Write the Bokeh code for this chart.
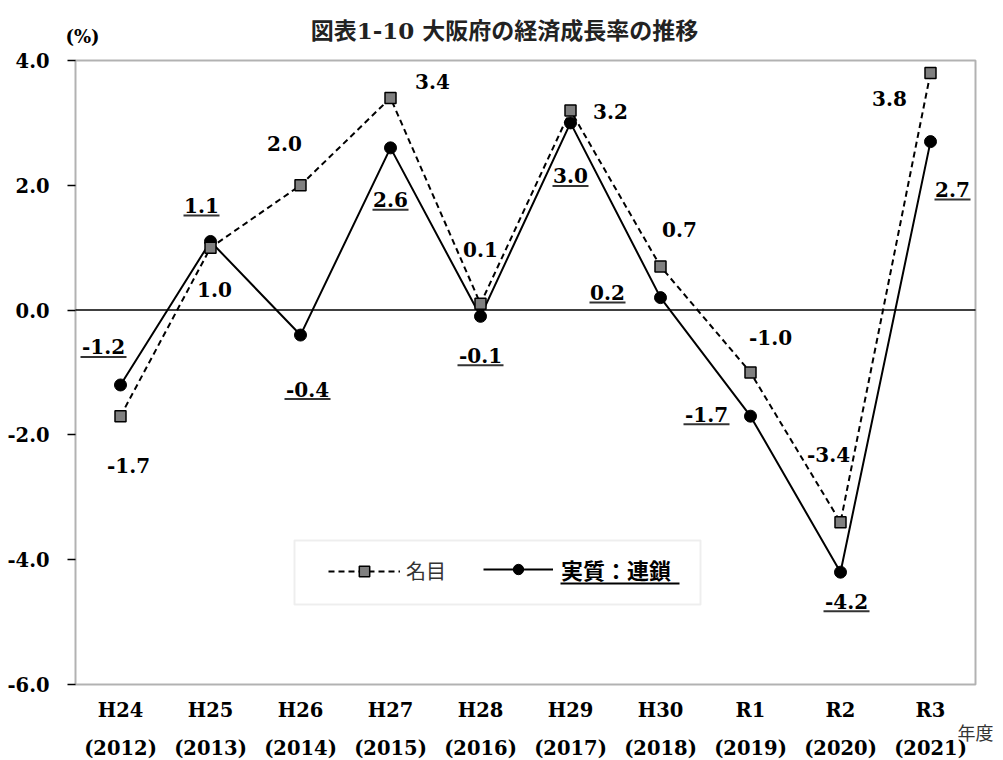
from bokeh.plotting import figure
from bokeh.models import (FixedTicker, NumeralTickFormatter, Range1d,
                          Legend, LegendItem, BoxAnnotation)
from bokeh.core.properties import value
from bokeh.embed import file_html
from bokeh.resources import INLINE

# ---------------- data ----------------
categories = ["H24", "H25", "H26", "H27", "H28", "H29", "H30", "R1", "R2", "R3"]
years = ["(2012)", "(2013)", "(2014)", "(2015)", "(2016)", "(2017)", "(2018)", "(2019)", "(2020)", "(2021)"]
nominal = [-1.7, 1.0, 2.0, 3.4, 0.1, 3.2, 0.7, -1.0, -3.4, 3.8]
real = [-1.2, 1.1, -0.4, 2.6, -0.1, 3.0, 0.2, -1.7, -4.2, 2.7]
y_ticks = [-6, -4, -2, 0, 2, 4]
series_names = ["名目", "実質：連鎖"]
title_text = "図表1-10 大阪府の経済成長率の推移"
unit_text = "(%)"
x_name = "年度"

# label placement (pixel offsets from each point)
nominal_dx = [8, 4, -16, 42, 0, 40, 19, 20, -12, -41]
nominal_dy = [49, 42, -42, -16, -54, 1, -37, -35, -68, 26]
real_dx = [-17, -9, 7, 0, 0, 0, -53, -44, 6, 22]
real_dy = [-38, -36, 54, 52, 39, 53, -5, -2, 29, 48]

# ---------------- layout constants ----------------
W, H = 1003, 760
FRAME_L = 64                                        # left edge of the drawing frame
PLOT_L, PLOT_R, PLOT_T, PLOT_B = 75, 975, 60, 684   # plot box in pixels
X0, X1 = 0, len(categories)
Y0, Y1 = -6, 4
PX_X = (PLOT_R - PLOT_L) / (X1 - X0)
PX_Y = (PLOT_B - PLOT_T) / (Y1 - Y0)
NUM_FONT = "DejaVu Serif"
JP_FONT = "Noto Sans CJK JP"
MIX_FONT = "DejaVu Serif, Noto Sans CJK JP"

xs = [i + 0.5 for i in range(len(categories))]
nominal_labels = ["%.1f" % v for v in nominal]
real_labels = ["%.1f" % v for v in real]

x_range = Range1d(X0 - (PLOT_L - FRAME_L) / PX_X, X1 + (W - PLOT_R) / PX_X)
y_range = Range1d(Y0 - (H - PLOT_B) / PX_Y, Y1 + PLOT_T / PX_Y)

p = figure(frame_width=W - FRAME_L, frame_height=H,
           x_range=x_range, y_range=y_range,
           output_backend="svg", toolbar_location=None,
           x_axis_location=None,
           min_border_left=FRAME_L, min_border_right=0, min_border_top=0, min_border_bottom=0,
           background_fill_color="white", border_fill_color="white")
p.grid.visible = False
p.outline_line_color = None

# y axis (library axis; its ticks reach the plot box edge)
yax = p.yaxis[0]
yax.bounds = (Y0, Y1)
yax.ticker = FixedTicker(ticks=y_ticks)
yax.formatter = NumeralTickFormatter(format="0.0")
yax.axis_line_color = None
yax.major_tick_out = -3
yax.major_tick_in = PLOT_L - FRAME_L
yax.minor_tick_line_color = None
yax.major_tick_line_width = 1.5
yax.major_label_standoff = 15
yax.major_label_text_font = NUM_FONT
yax.major_label_text_font_style = "bold"
yax.major_label_text_font_size = "19.5px"
yax.major_label_text_color = "black"

# plot box
p.add_layout(BoxAnnotation(left=X0, right=X1, bottom=Y0, top=Y1,
                           fill_alpha=0, line_color="black", line_width=2, level="underlay"))

# zero line (inside plot box)
p.segment([X0], [0], [X1], [0], line_color="black", line_width=1.5)

# category labels (two rows)
p.text(xs, [Y0] * len(xs), text=categories, y_offset=26,
       text_align="center", text_baseline="middle", text_font=value(NUM_FONT),
       text_font_style="bold", text_font_size="19.5px", text_color="black")
p.text(xs, [Y0] * len(xs), text=years, y_offset=64,
       text_align="center", text_baseline="middle", text_font=value(NUM_FONT),
       text_font_style="bold", text_font_size="19.5px", text_color="black")

# series
nom_line = p.line(xs, nominal, line_color="black", line_width=2, line_dash="6 4")
real_line = p.line(xs, real, line_color="black", line_width=2)
real_pts = p.scatter(xs, real, marker="circle", size=12, fill_color="black", line_color="black")
nom_pts = p.scatter(xs, nominal, marker="square", size=11, fill_color="#808080",
                    line_color="black", line_width=1.5)

# data labels
p.text(xs, nominal, text=nominal_labels, x_offset=nominal_dx, y_offset=nominal_dy,
       text_align="center", text_baseline="middle", text_font=value(NUM_FONT),
       text_font_style="bold", text_font_size="20px", text_color="black")
p.text(xs, real, text=real_labels, x_offset=real_dx, y_offset=real_dy,
       text_align="center", text_baseline="middle", text_font=value(NUM_FONT),
       text_font_style="bold", text_font_size="20px", text_color="black")

# underlines of the real-series labels
ux0, ux1, uy = [], [], []
for x, v, t, dx, dy in zip(xs, real, real_labels, real_dx, real_dy):
    w = 10 * len(t) + 6
    ux0.append(x + (dx - w / 2) / PX_X)
    ux1.append(x + (dx + w / 2) / PX_X)
    uy.append(v - (dy + 10) / PX_Y)
p.segment(ux0, uy, ux1, uy, line_color="#333333", line_width=2)

# title, unit and axis name
p.text([X1 / 2], [Y1], text=[title_text], x_offset=-21, y_offset=-30,
       text_align="center", text_baseline="middle", text_font=value(MIX_FONT),
       text_font_style="bold", text_font_size="23px", text_color="#222222")
p.text([X0], [Y1], text=[unit_text], x_offset=7, y_offset=-24,
       text_align="center", text_baseline="middle", text_font=value(NUM_FONT),
       text_font_style="bold", text_font_size="18px", text_color="black")
p.text([X1], [Y0], text=[x_name], x_offset=0, y_offset=47,
       text_align="center", text_baseline="middle", text_font=value(JP_FONT),
       text_font_size="18px", text_color="#333333")

# legend box
def px_x(px):
    return X0 + (px - PLOT_L) / PX_X

def px_y(py):
    return Y0 + (PLOT_B - py) / PX_Y

p.add_layout(BoxAnnotation(left=px_x(294), right=px_x(700), bottom=px_y(604), top=px_y(540),
                           fill_color="white", fill_alpha=1.0,
                           line_color="#c8c8c8", line_width=2))

LEG_Y = H - 572 - 13
leg1 = Legend(items=[LegendItem(label=series_names[0], renderers=[nom_line, nom_pts])],
              location=(328 - FRAME_L, LEG_Y), orientation="horizontal",
              glyph_width=72, glyph_height=26, label_height=26, label_standoff=6,
              padding=0, margin=0, border_line_color=None, background_fill_alpha=0,
              label_text_font=JP_FONT, label_text_font_size="20px",
              label_text_color="#333333")
leg2 = Legend(items=[LegendItem(label=series_names[1], renderers=[real_line, real_pts])],
              location=(483 - FRAME_L, LEG_Y), orientation="horizontal",
              glyph_width=70, glyph_height=26, label_height=26, label_standoff=8,
              padding=0, margin=0, border_line_color=None, background_fill_alpha=0,
              label_text_font=JP_FONT, label_text_font_size="22px",
              label_text_font_style="bold", label_text_color="black")
p.add_layout(leg1, "center")
p.add_layout(leg2, "center")
# underline of the bold legend label
p.add_layout(BoxAnnotation(left=px_x(560), right=px_x(679), bottom=px_y(584), top=px_y(582),
                           fill_color="black", fill_alpha=1.0, line_color=None))

html = file_html(p, INLINE)
html = html.replace("<head>", "<head><style>html,body{overflow:hidden;}</style>", 1)
open("out.html", "w").write(html)
